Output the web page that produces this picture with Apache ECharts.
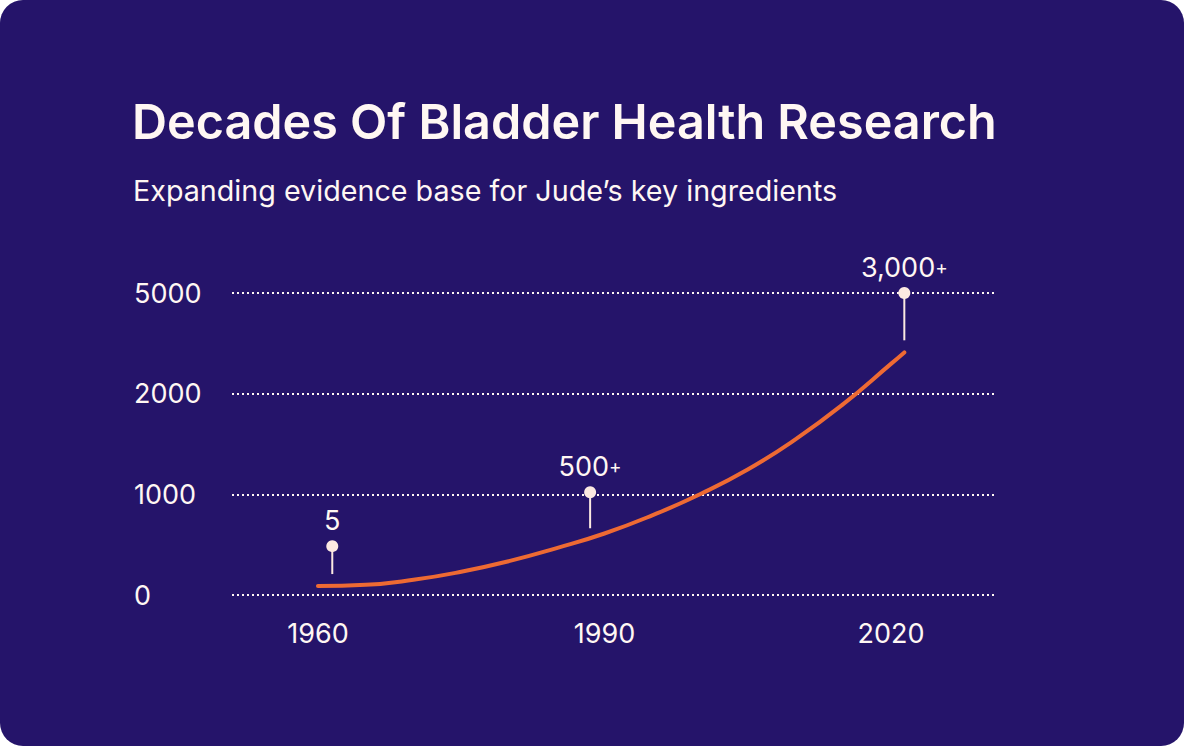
<!DOCTYPE html>
<html>
<head>
<meta charset="utf-8">
<script src="https://cdn.jsdelivr.net/npm/echarts@6/dist/echarts.min.js"></script>
<style>
  html, body { margin: 0; padding: 0; background: #ffffff; }
  #card { position: absolute; left: 0; top: 0; width: 1184px; height: 746px; background: #25146A; border-radius: 23px; overflow: hidden; }
  #chart { width: 1184px; height: 746px; }
</style>
</head>
<body>
<div id="card"><div id="chart"></div></div>
<script>
// ---- data ----
const titleText = 'Decades Of Bladder Health Research';
const subtitleText = 'Expanding evidence base for Jude\u2019s key ingredients';

const yTickLabels = [0, 1000, 2000, 5000];          // evenly spaced gridlines
const xTickLabels = [1960, 1990, 2020];

const curveYears  = [1960, 1965, 1970, 1975, 1980, 1985, 1990, 1995, 2000, 2005, 2010, 2015, 2020, 2021.4];
const curveCounts = [89, 101, 151, 231, 336, 466, 611, 791, 1001, 1246, 1546, 1896, 2888, 3230];

const pinYears   = [1961.5, 1988.5, 2021.4];
const pinTop     = [485, 1020, 5000];
const pinBottom  = [208, 663, 3590];
const pinLabels  = ['5', '500', '3,000'];
const pinPlus    = ['', '+', '+'];

// ---- styling ----
const FG = '#FFF7F3';
const PIN = '#FCE9E1';
const ORANGE = '#EE6A33';
const FONT = 'Inter';

// piecewise mapping of counts onto the evenly spaced tick bands
function toPos(v) {
  for (let i = 0; i < yTickLabels.length - 1; i++) {
    const a = yTickLabels[i], b = yTickLabels[i + 1];
    if (v <= b || i === yTickLabels.length - 2) return i + (v - a) / (b - a);
  }
  return 0;
}

const curveData = curveYears.map((y, i) => [y, toPos(curveCounts[i])]);
const pinData = pinYears.map((y, i) => ({
  value: [y, toPos(pinTop[i])],
  label: { formatter: pinPlus[i] ? '{n|' + pinLabels[i] + '}{p|' + pinPlus[i] + '}' : '{n|' + pinLabels[i] + '}' }
}));
const stemData = pinYears.map((y, i) => [y, toPos(pinTop[i]), toPos(pinBottom[i])]);

const chart = echarts.init(document.getElementById('chart'), null, { renderer: 'svg' });
chart.setOption({
  backgroundColor: 'transparent',
  animation: false,
  graphic: [
    { type: 'text', left: 132, top: 97, style: { text: titleText, fill: FG, font: '600 48.5px ' + FONT } },
    { type: 'text', left: 133, top: 176, style: { text: subtitleText, fill: FG, font: '400 28.7px ' + FONT } }
  ],
  grid: { left: 232, right: 188, top: 293, bottom: 151 },
  xAxis: {
    type: 'value', min: 1951, max: 2031,
    axisLine: { show: false }, axisTick: { show: false }, splitLine: { show: false },
    axisLabel: {
      customValues: xTickLabels,
      color: FG, fontFamily: FONT, fontSize: 27, margin: 25,
      formatter: v => String(v)
    }
  },
  yAxis: {
    type: 'value', min: 0, max: yTickLabels.length - 1, interval: 1,
    axisLine: { show: false }, axisTick: { show: false },
    splitLine: { lineStyle: { color: FG, width: 2, type: [2, 3] } },
    axisLabel: {
      color: FG, fontFamily: FONT, fontSize: 27, margin: 98, align: 'left',
      formatter: v => String(yTickLabels[Math.round(v)])
    }
  },
  series: [
    {
      type: 'line', data: curveData, smooth: 0.5, showSymbol: false, z: 3,
      lineStyle: { color: ORANGE, width: 4, cap: 'round' }
    },
    {
      type: 'custom', z: 4, data: stemData,
      renderItem: (params, api) => {
        const p1 = api.coord([api.value(0), api.value(1)]);
        const p2 = api.coord([api.value(0), api.value(2)]);
        return { type: 'line', shape: { x1: p1[0], y1: p1[1], x2: p2[0], y2: p2[1] }, style: { stroke: PIN, lineWidth: 2 } };
      }
    },
    {
      type: 'scatter', z: 5, data: pinData, symbol: 'circle', symbolSize: 12,
      itemStyle: { color: PIN, opacity: 1 },
      label: {
        show: true, position: 'top', distance: 6,
        rich: {
          n: { color: FG, fontFamily: FONT, fontSize: 27, opacity: 1 },
          p: { color: FG, fontFamily: FONT, fontSize: 19, opacity: 1 }
        }
      }
    }
  ]
});
</script>
</body>
</html>
